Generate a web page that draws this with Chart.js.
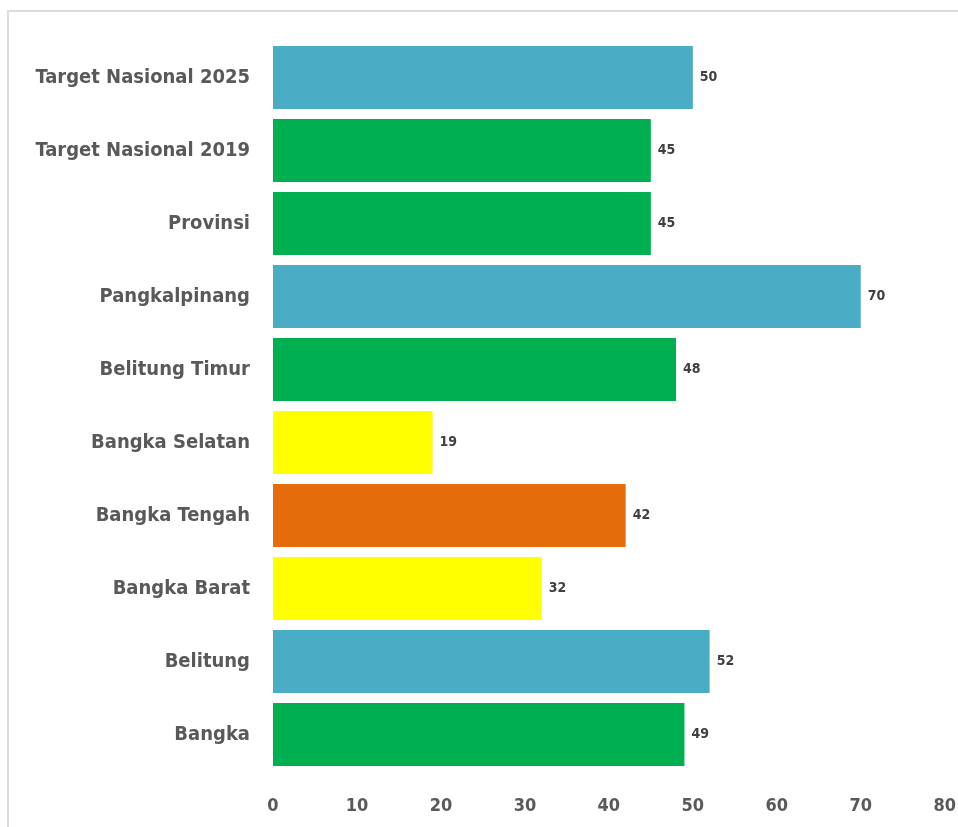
<!DOCTYPE html>
<html>
<head>
<meta charset="utf-8">
<script src="https://cdn.jsdelivr.net/npm/chart.js@4"></script>
<style>
  body { margin: 0; background: #fff; overflow: hidden; width: 958px; height: 827px; position: relative; }
  #frame { position: absolute; left: 7px; top: 10px; width: 951px; height: 817px;
    border-top: 2px solid #dcdcdc; border-left: 2px solid #dcdcdc; box-sizing: border-box; }
  #wrap { position: absolute; left: 0; top: 0; width: 973px; height: 827px; }
</style>
</head>
<body>
<div id="frame"></div>
<div id="wrap"><canvas id="myChart"></canvas></div>
<script>
const labels = [
  'Target Nasional 2025', 'Target Nasional 2019', 'Provinsi', 'Pangkalpinang',
  'Belitung Timur', 'Bangka Selatan', 'Bangka Tengah', 'Bangka Barat', 'Belitung', 'Bangka'
];
const values = [50, 45, 45, 70, 48, 19, 42, 32, 52, 49];
const barColors = [
  '#4BACC6', '#00B050', '#00B050', '#4BACC6', '#00B050',
  '#FFFF00', '#E46C0A', '#FFFF00', '#4BACC6', '#00B050'
];
const xTicks = [0, 10, 20, 30, 40, 50, 60, 70, 80];

const FONT = '"DejaVu Sans Condensed", "DejaVu Sans", sans-serif';

const valueLabels = {
  id: 'valueLabels',
  afterDatasetsDraw(chart) {
    const ctx = chart.ctx;
    const meta = chart.getDatasetMeta(0);
    ctx.save();
    ctx.font = 'bold 14px ' + FONT;
    ctx.fillStyle = '#404040';
    ctx.textAlign = 'left';
    ctx.textBaseline = 'middle';
    meta.data.forEach((bar, i) => {
      ctx.fillText(String(values[i]), bar.x + 7, bar.y);
    });
    ctx.restore();
  }
};

let ctx = document.getElementById('myChart').getContext('2d');

new Chart(ctx, {
  type: 'bar',
  data: {
    labels: labels,
    datasets: [{
      data: values,
      backgroundColor: barColors,
      borderWidth: 0,
      barPercentage: 0.86,
      categoryPercentage: 1.0
    }]
  },
  options: {
    indexAxis: 'y',
    responsive: true,
    maintainAspectRatio: false,
    animation: false,
    layout: { padding: { top: 41, right: 4, bottom: 0, left: 0 } },
    plugins: { legend: { display: false }, tooltip: { enabled: false } },
    scales: {
      x: {
        min: 0, max: 80,
        afterBuildTicks: (scale) => { scale.ticks = xTicks.map(v => ({ value: v })); },
        grid: { display: false },
        border: { display: false },
        ticks: { color: '#595959', padding: 17, font: { family: FONT, size: 18, weight: 'bold' } },
        afterFit: (scale) => { scale.height = 827 - 771; }
      },
      y: {
        grid: { display: false },
        border: { display: false },
        ticks: { color: '#595959', padding: 15, font: { family: FONT, size: 20, weight: 'bold' } },
        afterFit: (scale) => { scale.width = 273; }
      }
    }
  },
  plugins: [valueLabels]
});
</script>
</body>
</html>
